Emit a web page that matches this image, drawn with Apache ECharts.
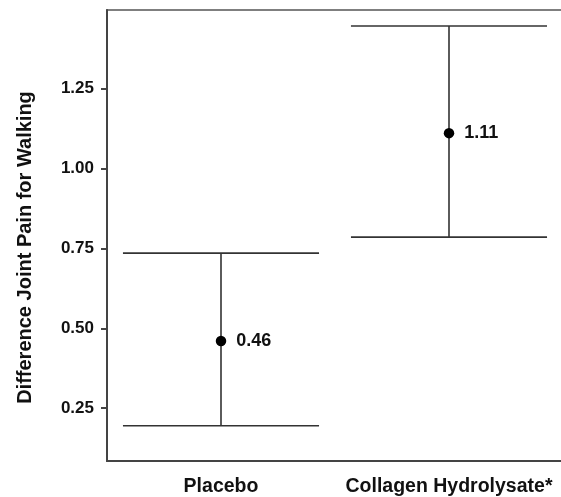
<!DOCTYPE html>
<html>
<head>
<meta charset="utf-8">
<script src="https://cdn.jsdelivr.net/npm/echarts@6/dist/echarts.min.js"></script>
<style>
  html, body { margin: 0; padding: 0; background: #fff; }
  #chart { width: 561px; height: 497px; }
</style>
</head>
<body>
<div id="chart"></div>
<script>
// Mean change in joint pain while walking, with confidence interval
const groups = ['Placebo', 'Collagen Hydrolysate*'];
const means = [0.46, 1.11];
const lowerBounds = [0.195, 0.785];
const upperBounds = [0.735, 1.445];
const yTicks = [0.25, 0.50, 0.75, 1.00, 1.25];

const FONT = '"Liberation Sans", Arial, Helvetica, sans-serif';
const INK = '#333333';

const chart = echarts.init(document.getElementById('chart'), null, { renderer: 'canvas' });

const intervalData = groups.map((g, i) => [i, lowerBounds[i], upperBounds[i]]);
const meanData = groups.map((g, i) => [i, means[i]]);

chart.setOption({
  animation: false,
  backgroundColor: '#ffffff',
  grid: {
    left: 107, right: -2, top: 10, bottom: 36,
    show: true, borderColor: '#555555', borderWidth: 1.5,
    containLabel: false, outerBoundsMode: 'none'
  },
  xAxis: {
    type: 'category',
    data: groups,
    boundaryGap: true,
    axisLine: { lineStyle: { color: '#444444', width: 2 } },
    axisTick: { alignWithLabel: true, length: 6, lineStyle: { color: '#444444', width: 2 } },
    axisLabel: {
      interval: 0, hideOverlap: false,
      margin: 16, color: '#111111', fontFamily: FONT, fontWeight: 'bold', fontSize: 19.5
    },
    splitLine: { show: false }
  },
  yAxis: {
    type: 'value',
    min: 0.085, max: 1.495,
    name: 'Difference Joint Pain for Walking',
    nameLocation: 'middle',
    nameGap: 72,
    nameTextStyle: {
      color: '#111111', fontFamily: FONT, fontWeight: 'bold', fontSize: 20,
      padding: [0, 24, 0, 0]
    },
    axisLine: { show: true, lineStyle: { color: '#444444', width: 2 } },
    axisTick: {
      show: true, length: 6, customValues: yTicks,
      lineStyle: { color: '#444444', width: 2 }
    },
    axisLabel: {
      margin: 13, color: '#111111', fontFamily: FONT, fontWeight: 'bold', fontSize: 17,
      customValues: yTicks,
      formatter: v => v.toFixed(2)
    },
    splitLine: { show: false }
  },
  series: [
    {
      type: 'custom',
      data: intervalData,
      encode: { x: 0, y: [1, 2] },
      renderItem: function (params, api) {
        const x = api.value(0);
        const lo = api.coord([x, api.value(1)]);
        const hi = api.coord([x, api.value(2)]);
        const half = api.size([1, 0])[0] * 0.43;
        const style = { stroke: INK, lineWidth: 1.6 };
        return {
          type: 'group',
          children: [
            { type: 'line', shape: { x1: lo[0], y1: lo[1], x2: hi[0], y2: hi[1] }, style },
            { type: 'line', shape: { x1: hi[0] - half, y1: hi[1], x2: hi[0] + half, y2: hi[1] }, style },
            { type: 'line', shape: { x1: lo[0] - half, y1: lo[1], x2: lo[0] + half, y2: lo[1] }, style }
          ]
        };
      },
      z: 2
    },
    {
      type: 'scatter',
      data: meanData,
      symbol: 'circle',
      symbolSize: 10.5,
      itemStyle: { color: '#000000', opacity: 1 },
      label: {
        show: true, position: 'right', distance: 10, opacity: 1,
        color: '#111111', fontFamily: FONT, fontWeight: 'bold', fontSize: 18,
        formatter: p => p.value[1].toFixed(2)
      },
      z: 3
    }
  ]
});
</script>
</body>
</html>
